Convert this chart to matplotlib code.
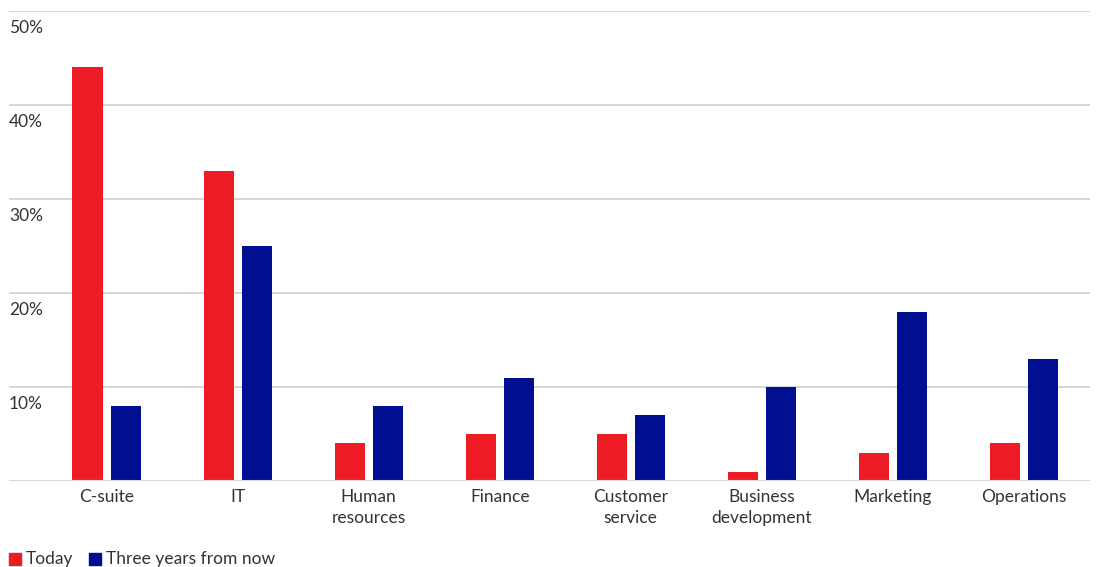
import matplotlib
matplotlib.use("Agg")
import matplotlib.pyplot as plt
import numpy as np
from matplotlib.patches import Rectangle

categories = ["C-suite", "IT", "Human\nresources", "Finance", "Customer\nservice",
              "Business\ndevelopment", "Marketing", "Operations"]
today = [44, 33, 4, 5, 5, 1, 3, 4]
three_years = [8, 25, 8, 11, 7, 10, 18, 13]
yticks = [10, 20, 30, 40, 50]
ytick_labels = ["10%", "20%", "30%", "40%", "50%"]
series_names = ["Today", "Three years from now"]

RED = "#ED1C24"
BLUE = "#000F8F"
TXT = "#333333"
plt.rcParams['font.family'] = ['Lato', 'DejaVu Sans']
FS = 12.5

W, H = 1098, 567
fig = plt.figure(figsize=(W / 100, H / 100), dpi=100)
ax = fig.add_axes([9 / W, (H - 481) / H, 1081 / W, 470 / H])

x = np.arange(len(categories))
bw = 0.229
off = 0.145
ax.bar(x - off, today, width=bw, color=RED, zorder=3)
ax.bar(x + off, three_years, width=bw, color=BLUE, zorder=3)

ax.set_xlim(-0.744, 7.504)
ax.set_ylim(0, 50)
for s in ax.spines.values():
    s.set_visible(False)
for t in yticks:
    ax.axhline(t, color="#d0d0d0", lw=1.2, zorder=1)
ax.axhline(0, color="#d8d8d8", lw=1.5, zorder=4)
ax.set_yticks([])
for t, lab in zip(yticks, ytick_labels):
    ax.text(0.0, t - 1.0, lab, transform=ax.get_yaxis_transform(), ha="left", va="top",
            fontsize=FS, color=TXT)

ax.set_xticks(x)
ax.set_xticklabels(categories, fontsize=FS, color=TXT, linespacing=1.35)
ax.tick_params(axis="x", length=0, pad=6)
ax.tick_params(axis="y", length=0)

# legend
fig.patches.append(Rectangle((9 / W, (H - 565) / H), 12 / W, 12 / H, transform=fig.transFigure,
                             color=RED, figure=fig))
fig.text(26 / W, (H - 559) / H, series_names[0], fontsize=FS, color=TXT, va="center", ha="left")
fig.patches.append(Rectangle((89 / W, (H - 565) / H), 12 / W, 12 / H, transform=fig.transFigure,
                             color=BLUE, figure=fig))
fig.text(106 / W, (H - 559) / H, series_names[1], fontsize=FS, color=TXT, va="center", ha="left")

fig.savefig("out.png", dpi=100)
